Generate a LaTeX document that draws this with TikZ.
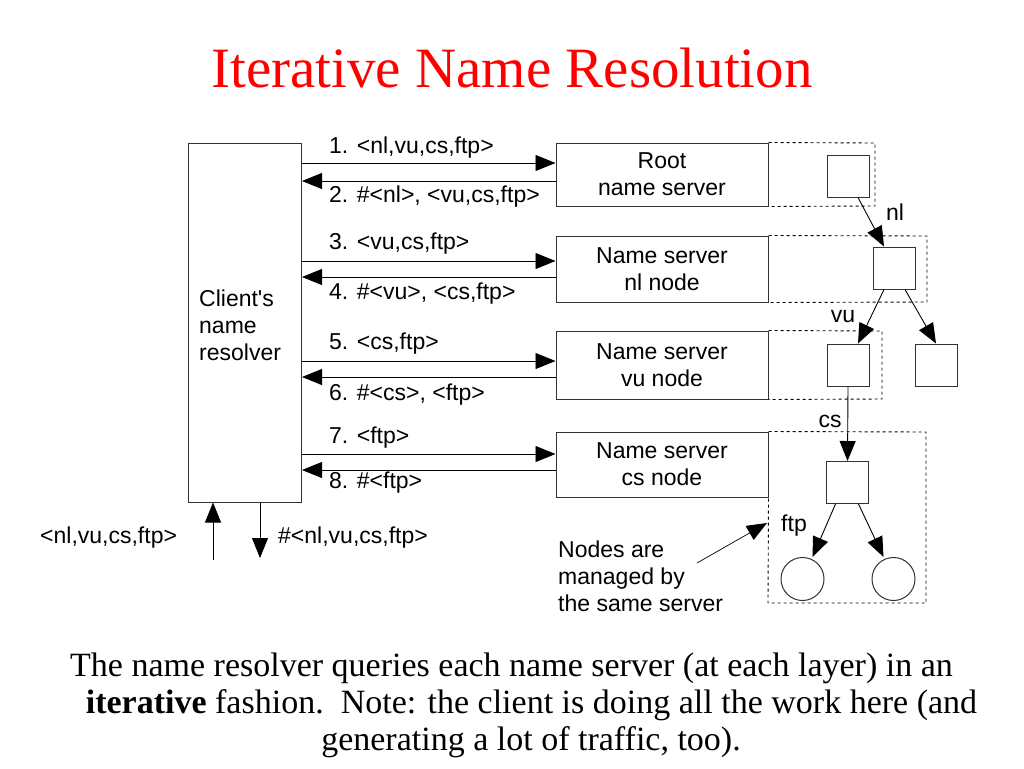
\documentclass[tikz,border=0pt]{standalone}
\usepackage{fontspec}
\setmainfont{Liberation Serif}
\newfontfamily\diagfont{Liberation Sans}
\usetikzlibrary{arrows.meta}
\begin{document}
\begin{tikzpicture}[x=1pt,y=-1pt,
  box/.style={draw=black!80, line width=1pt, inner sep=0pt},
  sq/.style={draw=black!80, line width=1pt, minimum size=42pt, inner sep=0pt},
  circ/.style={circle, draw=black!80, line width=1pt, minimum size=43pt, inner sep=0pt},
  txt/.style={font=\diagfont\fontsize{23}{27}\selectfont, inner sep=0pt},
  arr/.style={-{Triangle[length=20pt,width=16pt]}, line width=0.9pt},
  dbox/.style={line width=0.9pt, dash pattern=on 3pt off 3pt},
  captxt/.style={font=\fontsize{34}{37}\selectfont, inner sep=0pt, anchor=base}]
\useasboundingbox (0,0) rectangle (1024,768);
\fill[white] (0,0) rectangle (1024,768);

% title
\node[font=\fontsize{57}{60}\selectfont, text=red, inner sep=0pt] (title) at (512,68) {Iterative Name Resolution};

% client
\node[box, minimum width=113pt, minimum height=359pt] (client) at (245,322.5) {};
\node[txt, align=left, anchor=north west] (clienttxt) at (199,290) {Client's\\name\\resolver};

% servers
\node[box, txt, minimum width=212pt, minimum height=63pt, align=center] (root) at (662,174.5) {Root\\name server};
\node[box, txt, minimum width=212pt, minimum height=66pt, align=center] (nlsrv) at (662,269) {Name server\\nl node};
\node[box, txt, minimum width=212pt, minimum height=68pt, align=center] (vusrv) at (662,365) {Name server\\vu node};
\node[box, txt, minimum width=212pt, minimum height=65pt, align=center] (cssrv) at (662,464.5) {Name server\\cs node};

% request / reply arrows
\draw[arr] (client.east |- 0,163) -- (root.west |- 0,163);
\draw[arr] (root.west |- 0,181) -- (client.east |- 0,181);
\draw[arr] (client.east |- 0,261) -- (nlsrv.west |- 0,261);
\draw[arr] (nlsrv.west |- 0,277) -- (client.east |- 0,277);
\draw[arr] (client.east |- 0,361) -- (vusrv.west |- 0,361);
\draw[arr] (vusrv.west |- 0,377) -- (client.east |- 0,377);
\draw[arr] (client.east |- 0,454) -- (cssrv.west |- 0,454);
\draw[arr] (cssrv.west |- 0,470) -- (client.east |- 0,470);

\node[txt, anchor=west] (l1) at (329,148) {1. <nl,vu,cs,ftp>};
\node[txt, anchor=west] (l2) at (329,197) {2. \#<nl>, <vu,cs,ftp>};
\node[txt, anchor=west] (l3) at (329,244) {3. <vu,cs,ftp>};
\node[txt, anchor=west] (l4) at (329,294) {4. \#<vu>, <cs,ftp>};
\node[txt, anchor=west] (l5) at (329,344) {5. <cs,ftp>};
\node[txt, anchor=west] (l6) at (329,395) {6. \#<cs>, <ftp>};
\node[txt, anchor=west] (l7) at (329,438) {7. <ftp>};
\node[txt, anchor=west] (l8) at (329,483) {8. \#<ftp>};

% client in/out
\coordinate (upfoot) at (213,560);
\coordinate (downfoot) at (260,558);
\draw[arr] (upfoot) -- (client.south -| upfoot);
\draw[arr] (client.south -| downfoot) -- (downfoot);
\node[txt, anchor=west] (inlbl) at (40,538) {<nl,vu,cs,ftp>};
\node[txt, anchor=west] (outlbl) at (278,538) {\#<nl,vu,cs,ftp>};

% dashed zones
\draw[dbox] (root.north east) -- (875,143) -- (875,206) -- (root.south east);
\draw[dbox] (nlsrv.north east) -- (927,236) -- (927,302) -- (nlsrv.south east);
\draw[dbox] (vusrv.north east) -- (882,331) -- (882,399) -- (vusrv.south east);
\draw[dbox] (cssrv.north east) -- (926,432) -- (926,603) -- (768,603) -- (cssrv.south east);

% tree
\node[sq] (rsq) at (848,176) {};
\node[sq] (nsq) at (894,268) {};
\node[sq] (vsq) at (848,365) {};
\node[sq] (osq) at (936,365) {};
\node[sq] (csq) at (847.5,482.5) {};
\node[circ] (c1) at (802.5,579) {};
\node[circ] (c2) at (893.5,579) {};

\draw[arr] ([xshift=10pt]rsq.south) -- ([xshift=-10pt]nsq.north);
\draw[arr] ([xshift=-10pt]nsq.south) -- ([xshift=10pt]vsq.north);
\draw[arr] ([xshift=11pt]nsq.south) -- (osq.north);
\draw[arr] (vsq.south) -- (csq.north);
\draw[arr] ([xshift=-12pt]csq.south) -- ([xshift=10pt]c1.north);
\draw[arr] ([xshift=11pt]csq.south) -- ([xshift=-10pt]c2.north);

\node[txt] (nllbl) at (895,212) {nl};
\node[txt] (vulbl) at (843,317) {vu};
\node[txt] (cslbl) at (830,421) {cs};
\node[txt] (ftplbl) at (794,526) {ftp};

% note
\node[txt, align=left, anchor=north west] (note) at (558,541) {Nodes are\\managed by\\the same server};
\coordinate (notetail) at (697,563);
\coordinate (notehead) at (767,523);
\draw[arr, line width=0.7pt] (notetail) -- (notehead);

% caption
\node[captxt] (cap1) at (511.5,676) {The name resolver queries each name server (at each layer) in an};
\node[captxt] (cap2) at (531.5,713) {\textbf{iterative} fashion.\ \ Note: the client is doing all the work here (and};
\node[captxt] (cap3) at (531,750) {generating a lot of traffic, too).};
\end{tikzpicture}
\end{document}
